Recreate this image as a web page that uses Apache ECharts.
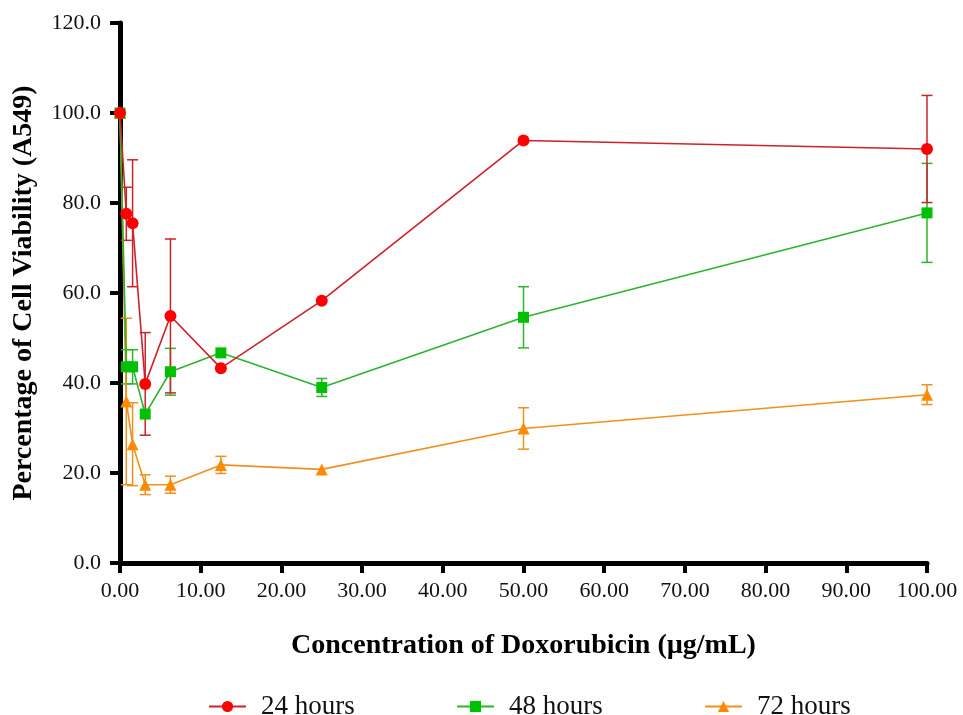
<!DOCTYPE html>
<html>
<head>
<meta charset="utf-8">
<script src="https://cdn.jsdelivr.net/npm/echarts@6/dist/echarts.min.js"></script>
<style>
html,body{margin:0;padding:0;background:#fff;}
#chart{width:963px;height:715px;}
</style>
</head>
<body>
<div id="chart"></div>
<script>
// concentrations (µg/mL)
var conc = [0, 0.78, 1.56, 3.125, 6.25, 12.5, 25, 50, 100];
// 24 hours
var mean24 = [100, 77.6, 75.5, 39.8, 54.9, 43.3, 58.3, 93.9, 92.0];
var err24  = [0, 5.9, 14.1, 11.4, 17.1, 0, 0, 0, 11.9];
// 48 hours
var mean48 = [100, 43.6, 43.6, 33.1, 42.5, 46.7, 39.0, 54.6, 77.8];
var err48  = [0, 3.8, 3.8, 0, 5.2, 0, 2.0, 6.8, 11.0];
// 72 hours
var mean72 = [100, 35.9, 26.4, 17.4, 17.4, 21.8, 20.8, 29.9, 37.4];
var err72  = [0, 18.5, 9.2, 2.2, 1.9, 1.9, 0, 4.6, 2.2];

var seriesNames = ['24 hours', '48 hours', '72 hours'];
var lineColors = ['#cc2229', '#2cb52c', '#f0901e'];
var markColors = ['#ff0000', '#00c000', '#ff8a00'];
var symbols = ['circle', 'rect', 'triangle'];
var symbolSizes = [12, 11, 12];
var yTicks = ['0.0','20.0','40.0','60.0','80.0','100.0','120.0'];
var xTicks = ['0.00','10.00','20.00','30.00','40.00','50.00','60.00','70.00','80.00','90.00','100.00'];

var FONT = '"Liberation Serif", "Times New Roman", serif';

function pts(m) { return conc.map(function (c, i) { return [c, m[i]]; }); }
function errPts(m, e) { return conc.map(function (c, i) { return [c, m[i], e[i]]; }); }

function errSeries(m, e, color) {
  return {
    type: 'custom',
    z: 1,
    silent: true,
    data: errPts(m, e),
    encode: { x: 0, y: 1 },
    renderItem: function (params, api) {
      var x = api.value(0), y = api.value(1), er = api.value(2);
      if (!er) return null;
      var top = api.coord([x, y + er]);
      var bot = api.coord([x, y - er]);
      var w = 5.5;
      var st = { stroke: color, lineWidth: 1.5, fill: null };
      return {
        type: 'group',
        children: [
          { type: 'line', shape: { x1: top[0], y1: top[1], x2: bot[0], y2: bot[1] }, style: st },
          { type: 'line', shape: { x1: top[0] - w, y1: top[1], x2: top[0] + w, y2: top[1] }, style: st },
          { type: 'line', shape: { x1: bot[0] - w, y1: bot[1], x2: bot[0] + w, y2: bot[1] }, style: st }
        ]
      };
    }
  };
}

var means = [mean24, mean48, mean72];
var errs = [err24, err48, err72];
var series = [];
[2, 1, 0].forEach(function (k) {
  series.push(errSeries(means[k], errs[k], lineColors[k]));
});
[2, 1, 0].forEach(function (k) {
  series.push({
    name: seriesNames[k],
    type: 'line',
    z: 2 + (2 - k),
    data: pts(means[k]),
    symbol: symbols[k],
    symbolSize: symbolSizes[k],
    showAllSymbol: true,
    lineStyle: { color: lineColors[k], width: 1.6 },
    itemStyle: { color: markColors[k], borderWidth: 0 },
    emphasis: { disabled: true },
    animation: false
  });
});

var legendLefts = [203, 451, 699];
var legends = seriesNames.map(function (n, i) {
  return {
    data: [n],
    left: legendLefts[i],
    top: 688,
    itemWidth: 37,
    itemHeight: 14,
    selectedMode: false,
    textStyle: { fontFamily: FONT, fontSize: 27, color: '#111', padding: [0, 0, 0, 10] }
  };
});

var chart = echarts.init(document.getElementById('chart'), null, { renderer: 'canvas' });
chart.setOption({
  animation: false,
  backgroundColor: '#ffffff',
  grid: { left: 120, right: 36, top: 23, bottom: 152, containLabel: false },
  legend: legends,
  xAxis: {
    type: 'value',
    min: 0, max: 100, interval: 10,
    name: 'Concentration of Doxorubicin (µg/mL)',
    nameLocation: 'middle',
    nameGap: 69,
    nameTextStyle: { fontFamily: FONT, fontSize: 28, fontWeight: 'bold', color: '#000' },
    axisLine: { show: true, onZero: false, lineStyle: { color: '#000', width: 5 } },
    axisTick: { show: true, length: 10, lineStyle: { color: '#000', width: 4 } },
    axisLabel: {
      margin: 17, fontFamily: FONT, fontSize: 22, color: '#111',
      formatter: function (v) { return xTicks[Math.round(v / 10)]; }
    },
    splitLine: { show: false }
  },
  yAxis: {
    type: 'value',
    min: 0, max: 120, interval: 20,
    name: 'Percentage of Cell Viability (A549)',
    nameLocation: 'middle',
    nameGap: 82,
    nameTextStyle: { fontFamily: FONT, fontSize: 28, fontWeight: 'bold', color: '#000' },
    axisLine: { show: true, onZero: false, lineStyle: { color: '#000', width: 5 } },
    axisTick: { show: true, length: 10, lineStyle: { color: '#000', width: 4 } },
    axisLabel: {
      margin: 19, fontFamily: FONT, fontSize: 22, color: '#111',
      formatter: function (v) { return yTicks[Math.round(v / 20)]; }
    },
    splitLine: { show: false }
  },
  series: series
});
</script>
</body>
</html>
